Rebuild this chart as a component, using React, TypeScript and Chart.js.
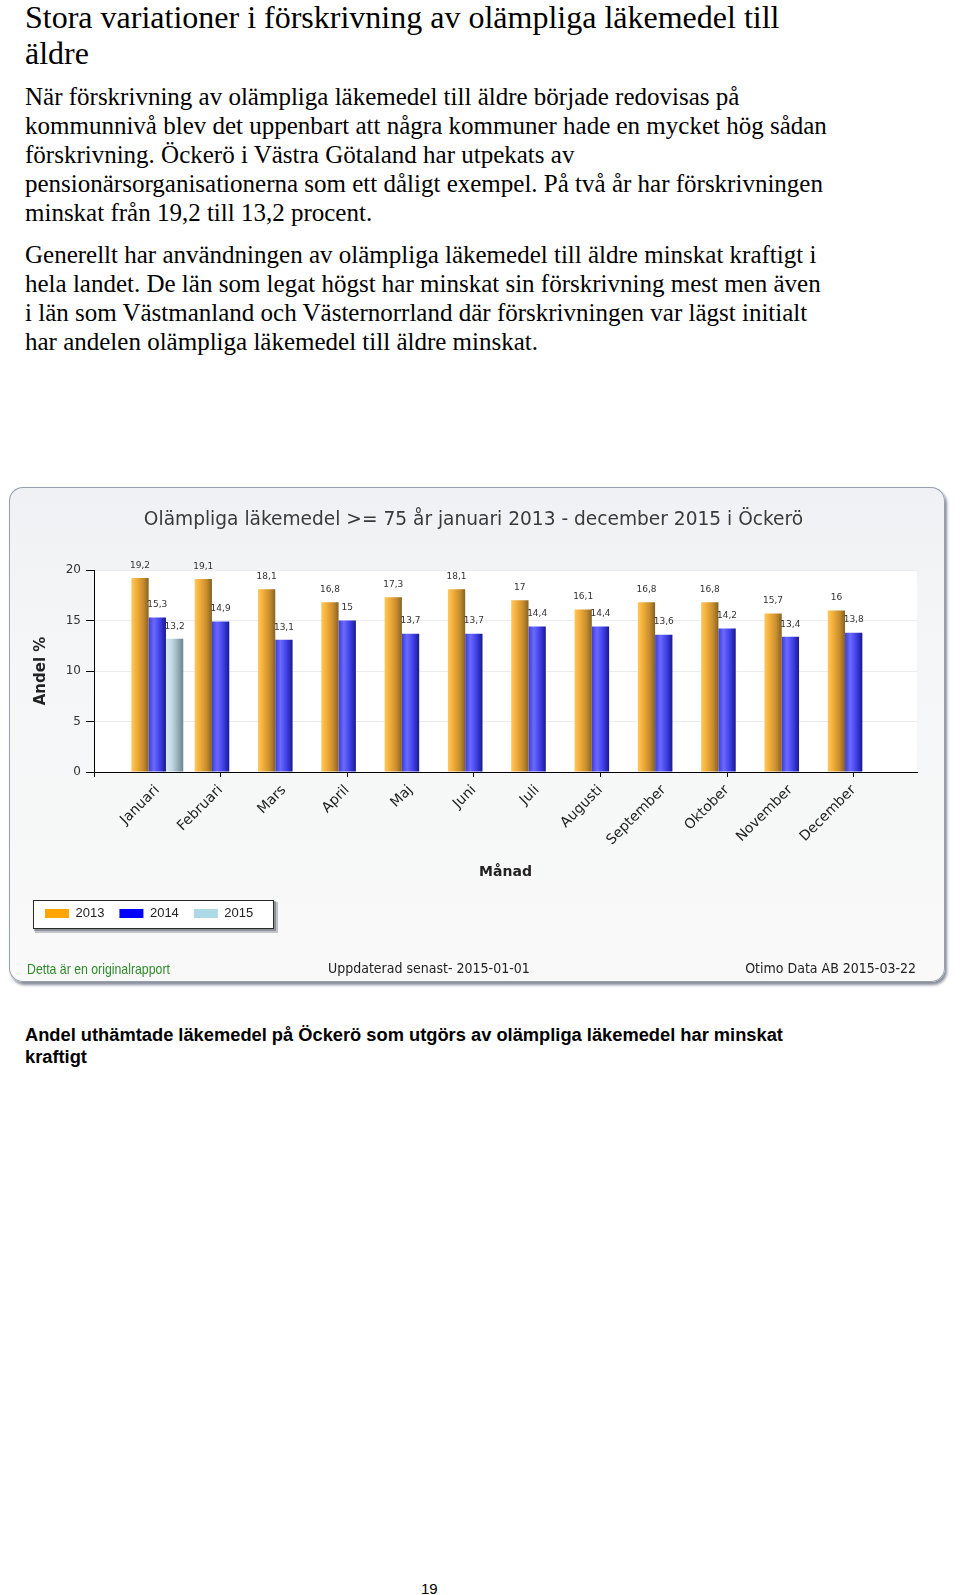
import React, { useEffect, useRef } from 'react';
import { Chart, registerables } from 'chart.js';

Chart.register(...registerables);

// ---------- data ----------
const months = ['Januari', 'Februari', 'Mars', 'April', 'Maj', 'Juni', 'Juli', 'Augusti', 'September', 'Oktober', 'November', 'December'];
const seriesNames = ['2013', '2014', '2015'];
const values2013 = [19.2, 19.1, 18.1, 16.8, 17.3, 18.1, 17, 16.1, 16.8, 16.8, 15.7, 16];
const values2014 = [15.3, 14.9, 13.1, 15, 13.7, 13.7, 14.4, 14.4, 13.6, 14.2, 13.4, 13.8];
const values2015: (number | null)[] = [13.2, null, null, null, null, null, null, null, null, null, null, null];
const yMin = 0;
const yMax = 20;
const yStep = 5;

const chartTitle = 'Olämpliga läkemedel >= 75 år januari 2013 - december 2015 i Öckerö';
const xTitle = 'Månad';
const yTitle = 'Andel %';

// ---------- styles ----------
const legendColors = ['#FFA500', '#0000FF', '#ADD8E6'];
const gradientStops: [number, string][][] = [
  [[0, '#ffc85c'], [0.3, '#f2ae3a'], [0.7, '#c58b2d'], [1, '#846226']],
  [[0, '#3c3cdc'], [0.3, '#6a6aff'], [0.7, '#3a3ae2'], [1, '#1a1a88']],
  [[0, '#d6eaf4'], [0.35, '#c2d9e4'], [1, '#6c858e']],
];
const CAT_PCT = 0.82;
const SANS = '"DejaVu Sans", Verdana, sans-serif';
const ARIAL = '"Liberation Sans", Arial, sans-serif';

function barGradient(c: any) {
  const chart = c.chart;
  const ds = c.datasetIndex ?? 0;
  const fallback = legendColors[ds] ?? '#888';
  if (c.type !== 'data' || !chart.chartArea) return fallback;
  const xs = chart.scales.x;
  const raw = c.raw;
  if (!xs || !raw) return fallback;
  const center = xs.getPixelForValue(raw.x);
  const catW = Math.abs(xs.getPixelForValue(1) - xs.getPixelForValue(0));
  if (!isFinite(center) || !isFinite(catW) || catW === 0) return fallback;
  const groupW = catW * CAT_PCT;
  const barW = groupW / chart.data.datasets.length;
  const left = center - groupW / 2 + ds * barW;
  const g = chart.ctx.createLinearGradient(left, 0, left + barW, 0);
  gradientStops[ds].forEach(([o, col]) => g.addColorStop(o, col));
  return g;
}

const framePlugin = {
  id: 'frame',
  beforeDraw(chart: any) {
    const { ctx, chartArea: a, legend } = chart;
    ctx.save();
    ctx.fillStyle = '#ffffff';
    ctx.fillRect(a.left, a.top, a.right - a.left, a.bottom - a.top);
    if (legend && legend.lineWidths) {
      const x0 = Math.round(legend.left + 3);
      const x1 = Math.round(legend.left + legend.lineWidths[0] + 21);
      const y0 = Math.round(legend.top + 8);
      const y1 = Math.round(legend.top + 37);
      ctx.fillStyle = 'rgba(90,95,110,0.35)';
      ctx.fillRect(x0 + 2, y0 + 2, x1 - x0 + 2, y1 - y0 + 2);
      ctx.fillStyle = 'rgba(90,95,110,0.5)';
      ctx.fillRect(x0 + 1, y0 + 1, x1 - x0 + 1, y1 - y0 + 1);
      ctx.fillStyle = '#ffffff';
      ctx.fillRect(x0, y0, x1 - x0, y1 - y0);
      ctx.strokeStyle = '#2a2a2a';
      ctx.lineWidth = 1;
      ctx.strokeRect(x0 + 0.5, y0 + 0.5, x1 - x0 - 1, y1 - y0 - 1);
    }
    ctx.restore();
  },
};

const valueLabelPlugin = {
  id: 'valueLabels',
  afterDatasetsDraw(chart: any) {
    const ctx = chart.ctx;
    ctx.save();
    ctx.font = `9px ${SANS}`;
    ctx.fillStyle = '#333333';
    ctx.textAlign = 'center';
    ctx.textBaseline = 'middle';
    chart.data.datasets.forEach((ds: any, di: number) => {
      const meta = chart.getDatasetMeta(di);
      meta.data.forEach((el: any, i: number) => {
        const v = ds.data[i].y;
        if (v === null || v === undefined) return;
        ctx.fillText(String(v).replace('.', ','), el.x, el.y - 12.5);
      });
    });
    ctx.restore();
  },
};

function toPoints(vals: (number | null)[]) {
  return vals.map((y, i) => ({ x: i, y })).filter((p) => p.y !== null);
}

function ChartBox() {
  const ref = useRef<HTMLCanvasElement | null>(null);
  useEffect(() => {
    if (!ref.current) return;
    const seriesValues = [values2013, values2014, values2015];
    const chart = new Chart(ref.current, {
      type: 'bar',
      data: {
        datasets: seriesValues.map((vals, i) => ({
          label: seriesNames[i],
          data: toPoints(vals),
          backgroundColor: barGradient,
          hoverBackgroundColor: barGradient,
          borderWidth: 0,
          categoryPercentage: CAT_PCT,
          barPercentage: 1,
        })) as any,
      },
      options: {
        responsive: false,
        animation: false,
        events: [],
        indexAxis: 'x',
        layout: { padding: { left: 21, right: 28, top: 0, bottom: 52 } },
        plugins: {
          title: {
            display: true,
            text: chartTitle,
            color: '#3a3a3a',
            font: { family: SANS, size: 18.6, weight: 'normal' },
            padding: { top: 21.8, bottom: 38.9 },
          },
          legend: {
            position: 'bottom',
            align: 'start',
            labels: {
              boxWidth: 24,
              boxHeight: 9,
              padding: 15,
              color: '#222',
              font: { family: ARIAL, size: 13 },
              generateLabels: (ch: any) =>
                ch.data.datasets.map((ds: any, i: number) => ({
                  text: ds.label,
                  fillStyle: legendColors[i],
                  strokeStyle: legendColors[i],
                  lineWidth: 0,
                  hidden: false,
                  datasetIndex: i,
                  fontColor: '#222',
                })),
            },
          },
          tooltip: { enabled: false },
        },
        scales: {
          x: {
            type: 'linear',
            min: -1,
            max: months.length,
            offset: false,
            grid: {
              display: true,
              offset: false,
              drawOnChartArea: false,
              drawTicks: true,
              tickLength: 5,
              tickColor: (c: any) => (Math.abs(c.tick ? c.tick.value : 0) % 2 === 1 ? '#000' : 'rgba(0,0,0,0)'),
            },
            border: { display: true, color: '#000', width: 1 },
            ticks: {
              stepSize: 1,
              autoSkip: false,
              maxRotation: 45,
              minRotation: 45,
              padding: 5,
              color: '#222',
              font: { family: SANS, size: 14 },
              callback: (v: any) => {
                const n = Number(v);
                return Number.isInteger(n) && n >= 0 && n < months.length ? months[n] : '';
              },
            },
            title: {
              display: true,
              text: xTitle,
              color: '#222',
              font: { family: SANS, size: 14, weight: 'bold' },
              padding: { top: 0, bottom: 11.6 },
            },
            afterFit: (s: any) => {
              s.height = 120;
            },
          } as any,
          y: {
            min: yMin,
            max: yMax,
            grid: { color: '#ececec', tickColor: '#000', tickLength: 8, drawTicks: true },
            border: { display: true, color: '#000', width: 1 },
            ticks: {
              stepSize: yStep,
              padding: 5,
              color: '#333',
              font: { family: SANS, size: 12 },
            },
            title: {
              display: true,
              text: yTitle,
              color: '#222',
              font: { family: SANS, size: 15, weight: 'bold' },
              padding: { top: 2, bottom: 0 },
            },
            afterFit: (s: any) => {
              s.width = 64;
            },
          } as any,
        },
      } as any,
      plugins: [framePlugin, valueLabelPlugin],
    });
    return () => chart.destroy();
  }, []);

  return (
    <div
      style={{
        position: 'absolute',
        left: 9,
        top: 487,
        width: 936,
        height: 495,
        borderRadius: 14,
        background: 'linear-gradient(to bottom, #eff1f4 0%, #f5f6f7 35%, #f9f9f9 100%)',
        boxShadow: 'inset 0 0 0 1px #98a0ae, 2px 3px 3px rgba(70,80,100,0.65)',
      }}
    >
      <canvas ref={ref} width={936} height={495} style={{ position: 'absolute', left: 0, top: 0, width: 936, height: 495 }} />
      <div
        style={{
          position: 'absolute',
          left: 18,
          top: 473,
          height: 18,
          lineHeight: '18px',
          font: `15px ${ARIAL}`,
          color: '#2f8a2a',
          whiteSpace: 'nowrap',
          transform: 'scaleX(0.82)',
          transformOrigin: '0 50%',
        }}
      >
        Detta är en originalrapport
      </div>
      <div style={{ position: 'absolute', left: 319, top: 473, height: 18, lineHeight: '18px', font: '14px "DejaVu Sans Condensed", sans-serif', color: '#222', whiteSpace: 'nowrap' }}>
        Uppdaterad senast- 2015-01-01
      </div>
      <div style={{ position: 'absolute', right: 29, top: 473, height: 18, lineHeight: '18px', font: '14px "DejaVu Sans Condensed", sans-serif', color: '#222', whiteSpace: 'nowrap', textAlign: 'right' }}>
        Otimo Data AB 2015-03-22
      </div>
    </div>
  );
}

const SERIF = '"Liberation Serif", "Times New Roman", serif';

const headingLines = ['Stora variationer i förskrivning av olämpliga läkemedel till', 'äldre'];
const para1Lines = [
  'När förskrivning av olämpliga läkemedel till äldre började redovisas på',
  'kommunnivå blev det uppenbart att några kommuner hade en mycket hög sådan',
  'förskrivning. Öckerö i Västra Götaland har utpekats av',
  'pensionärsorganisationerna som ett dåligt exempel. På två år har förskrivningen',
  'minskat från 19,2 till 13,2 procent.',
];
const para2Lines = [
  'Generellt har användningen av olämpliga läkemedel till äldre minskat kraftigt i',
  'hela landet. De län som legat högst har minskat sin förskrivning mest men även',
  'i län som Västmanland och Västernorrland där förskrivningen var lägst initialt',
  'har andelen olämpliga läkemedel till äldre minskat.',
];
const captionLines = ['Andel uthämtade läkemedel på Öckerö som utgörs av olämpliga läkemedel har minskat', 'kraftigt'];

function Lines({ lines, top, lh, font, left = 25 }: { lines: string[]; top: number; lh: number; font: string; left?: number }) {
  return (
    <>
      {lines.map((t, i) => (
        <div
          key={i}
          style={{ position: 'absolute', left, top: top + i * lh, height: lh, lineHeight: `${lh}px`, font, color: '#000', whiteSpace: 'nowrap' }}
        >
          {t}
        </div>
      ))}
    </>
  );
}

export default function App() {
  return (
    <div style={{ position: 'absolute', left: 0, top: 0, width: 960, height: 1595, background: '#fff', overflow: 'hidden' }}>
      <Lines lines={headingLines} top={-1} lh={36} font={`32px ${SERIF}`} />
      <Lines lines={para1Lines} top={83} lh={29} font={`25px ${SERIF}`} />
      <Lines lines={para2Lines} top={240.5} lh={29.2} font={`25px ${SERIF}`} />
      <ChartBox />
      <Lines lines={captionLines} top={1024} lh={21.5} font={`bold 18.3px ${ARIAL}`} />
      <div style={{ position: 'absolute', left: 421, top: 1580, height: 18, lineHeight: '18px', font: `15px ${ARIAL}`, color: '#000' }}>19</div>
    </div>
  );
}
